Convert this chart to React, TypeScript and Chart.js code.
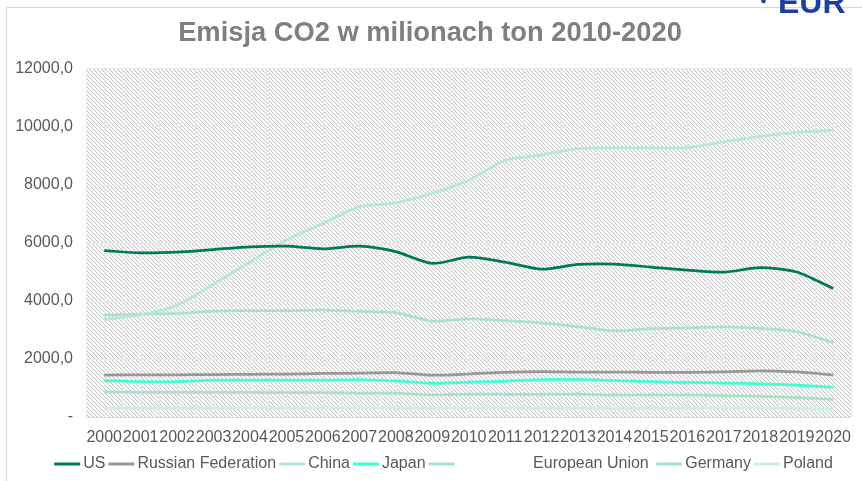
import React, { useEffect, useRef } from "react";
import { Chart, registerables } from "chart.js";

Chart.register(...registerables);

const years = ["2000","2001","2002","2003","2004","2005","2006","2007","2008","2009","2010","2011","2012","2013","2014","2015","2016","2017","2018","2019","2020"];

const usValues = [5730, 5650, 5675, 5765, 5855, 5880, 5790, 5880, 5690, 5285, 5500, 5330, 5090, 5250, 5260, 5160, 5055, 4985, 5140, 4990, 4425];
const russiaValues = [1445, 1450, 1450, 1460, 1470, 1475, 1500, 1510, 1530, 1440, 1480, 1540, 1560, 1545, 1545, 1540, 1540, 1550, 1590, 1550, 1445];
const chinaValues = [3360, 3510, 3850, 4570, 5340, 6090, 6660, 7230, 7370, 7700, 8150, 8830, 9020, 9240, 9260, 9260, 9270, 9470, 9660, 9800, 9870];
const japanValues = [1250, 1215, 1215, 1265, 1270, 1270, 1265, 1290, 1240, 1160, 1200, 1230, 1290, 1295, 1250, 1215, 1190, 1170, 1140, 1100, 1025];
const euValues = [3510, 3540, 3565, 3645, 3660, 3660, 3680, 3635, 3590, 3300, 3380, 3320, 3240, 3110, 2970, 3040, 3070, 3105, 3050, 2935, 2560];
const germanyValues = [855, 850, 850, 850, 845, 840, 840, 820, 820, 760, 790, 780, 780, 790, 760, 760, 765, 740, 710, 670, 605];
const polandValues = [300, 300, 295, 300, 305, 300, 310, 310, 305, 295, 310, 305, 300, 300, 290, 295, 300, 310, 305, 290, 275];

const seriesLabels = ["US", "Russian Federation", "China", "Japan", "                 European Union ", "Germany", "Poland"];
const titleText = "Emisja CO2 w milionach ton 2010-2020";
const logoText = "EUR";

const FONT = '"Liberation Sans", Arial, sans-serif';

function makeHatch(): CanvasPattern | string {
  const tile = document.createElement("canvas");
  tile.width = 4;
  tile.height = 4;
  const t = tile.getContext("2d");
  if (!t) return "#efefef";
  t.fillStyle = "#ffffff";
  t.fillRect(0, 0, 4, 4);
  for (let y = 0; y < 4; y++) {
    for (let x = 0; x < 4; x++) {
      const d = (((x - y) % 4) + 4) % 4;
      if (d === 0) {
        t.fillStyle = "#c8c8c8";
        t.fillRect(x, y, 1, 1);
      } else if (d === 1) {
        t.fillStyle = "#eeeeee";
        t.fillRect(x, y, 1, 1);
      }
    }
  }
  const ctx = document.createElement("canvas").getContext("2d");
  return (ctx && ctx.createPattern(tile, "repeat")) || "#efefef";
}

const framePlugin = {
  id: "framePlugin",
  beforeDraw(chart: any) {
    const { ctx, chartArea, width, height } = chart;
    ctx.save();
    ctx.fillStyle = "#ffffff";
    ctx.fillRect(0, 0, width, height);
    ctx.strokeStyle = "#d9d9d9";
    ctx.lineWidth = 1;
    ctx.beginPath();
    ctx.moveTo(6.5, height + 5);
    ctx.lineTo(6.5, 7.5);
    ctx.lineTo(width + 5, 7.5);
    ctx.stroke();
    ctx.fillStyle = "#1f3fa0";
    ctx.font = "bold 32px " + FONT;
    ctx.textBaseline = "alphabetic";
    ctx.textAlign = "left";
    ctx.fillText(logoText, 778, 13);
    ctx.beginPath();
    ctx.arc(763.5, 1, 2.2, 0, Math.PI * 2);
    ctx.fill();
    ctx.fillStyle = makeHatch() as any;
    ctx.fillRect(chartArea.left, chartArea.top, chartArea.right - chartArea.left, chartArea.bottom - chartArea.top);
    ctx.restore();
  },
  beforeDatasetsDraw(chart: any) {
    const { ctx, chartArea } = chart;
    const xs = chart.scales.x;
    const ys = chart.scales.y;
    ctx.save();
    ctx.lineWidth = 1;
    ctx.strokeStyle = "#e8e8e8";
    for (let i = 0; i < years.length; i++) {
      const c = xs.getPixelForValue(i);
      const half = xs.getPixelForValue(i + 0.5) - c;
      const positions = [c - half, c];
      if (i === years.length - 1) positions.push(c + half);
      for (const px of positions) {
        const xx = Math.round(px) + 0.5;
        ctx.beginPath();
        ctx.moveTo(xx, chartArea.top);
        ctx.lineTo(xx, chartArea.bottom);
        ctx.stroke();
      }
    }
    for (const tick of ys.ticks) {
      const py = Math.round(ys.getPixelForValue(tick.value)) + 0.5;
      ctx.strokeStyle = tick.value === 0 ? "#d9d9d9" : "#e8e8e8";
      ctx.beginPath();
      ctx.moveTo(chartArea.left, py);
      ctx.lineTo(chartArea.right, py);
      ctx.stroke();
    }
    ctx.restore();
  },
  afterDraw(chart: any) {
    const { ctx } = chart;
    ctx.save();
    ctx.font = "16px " + FONT;
    ctx.textBaseline = "middle";
    ctx.textAlign = "left";
    const markerW = 26;
    const gapBox = 3;
    const gapItem = 3;
    const items = chart.data.datasets.map((ds: any) => ({
      text: ds.label as string,
      color: ds.borderColor as string,
      w: ctx.measureText(ds.label).width,
    }));
    let total = 0;
    items.forEach((it: any, i: number) => {
      total += markerW + gapBox + it.w + (i < items.length - 1 ? gapItem : 0);
    });
    const cx = 443.5;
    const y = 464;
    let x = cx - total / 2;
    for (const it of items) {
      ctx.strokeStyle = it.color;
      ctx.lineWidth = 3;
      ctx.beginPath();
      ctx.moveTo(x, y);
      ctx.lineTo(x + markerW, y);
      ctx.stroke();
      x += markerW + gapBox;
      ctx.fillStyle = "#595959";
      ctx.fillText(it.text, x, y);
      x += it.w + gapItem;
    }
    ctx.restore();
  },
};

export default function App() {
  const canvasRef = useRef<HTMLCanvasElement | null>(null);

  useEffect(() => {
    document.body.style.margin = "0";
    const canvas = canvasRef.current;
    if (!canvas) return;
    Chart.defaults.font.family = FONT;

    const mk = (label: string, data: number[], color: string) => ({
      label,
      data,
      borderColor: color,
      backgroundColor: color,
      borderWidth: 2.75,
      pointRadius: 0,
      pointHoverRadius: 0,
      tension: 0.25,
      fill: false,
    });

    const chart = new Chart(canvas, {
      type: "line",
      data: {
        labels: years,
        datasets: [
          mk(seriesLabels[0], usValues, "#00785a"),
          mk(seriesLabels[1], russiaValues, "#989898"),
          mk(seriesLabels[2], chinaValues, "#b6e8d3"),
          mk(seriesLabels[3], japanValues, "#40ffd2"),
          mk(seriesLabels[4], euValues, "#a9e3cb"),
          mk(seriesLabels[5], germanyValues, "#a6e2c9"),
          mk(seriesLabels[6], polandValues, "#c9f1e2"),
        ],
      },
      options: {
        responsive: false,
        animation: false,
        events: [],
        layout: { padding: { top: 17, left: 0, right: 2, bottom: 35 } },
        plugins: {
          legend: { display: false },
          tooltip: { enabled: false },
          title: {
            display: true,
            text: titleText,
            color: "#7f7f7f",
            font: { size: 27.3, weight: "bold", family: FONT, lineHeight: 1.2 },
            padding: { top: 0, bottom: 18.6 },
          },
        },
        scales: {
          x: {
            type: "category",
            offset: true,
            grid: { display: false, drawTicks: false },
            border: { display: false },
            afterFit: (s: any) => {
              s.height = 29;
            },
            ticks: {
              autoSkip: false,
              maxRotation: 0,
              minRotation: 0,
              padding: 11,
              color: "#595959",
              font: { size: 16, family: FONT },
            },
          },
          y: {
            min: 0,
            max: 12000,
            grid: { display: false, drawTicks: false },
            border: { display: false },
            afterFit: (s: any) => {
              s.width = 86;
            },
            ticks: {
              stepSize: 2000,
              padding: 13,
              color: "#595959",
              font: { size: 16, family: FONT },
              callback: (v: any) => (Number(v) === 0 ? "-" : Number(v).toFixed(1).replace(".", ",")),
            },
          },
        },
      },
      plugins: [framePlugin],
    });

    return () => chart.destroy();
  }, []);

  return (
    <canvas
      ref={canvasRef}
      width={862}
      height={481}
      style={{ display: "block", width: 862, height: 481 }}
    />
  );
}
